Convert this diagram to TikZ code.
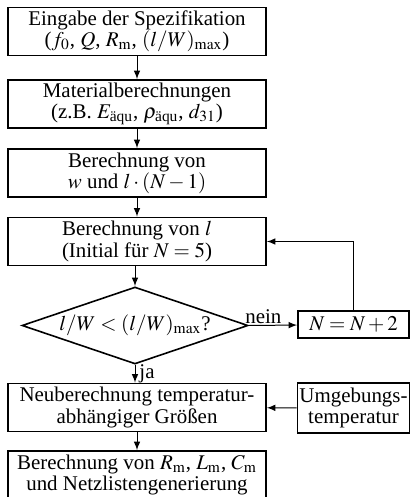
\documentclass[tikz,border=0pt]{standalone}
\usepackage{amsmath}
\usepackage{mathptmx}
\usepackage{fontspec}
\setmainfont{Liberation Serif}
\usetikzlibrary{shapes.geometric}

\begin{document}
\begin{tikzpicture}[x=0.5bp, y=-0.5bp, font=\fontsize{10.5}{10.6}\selectfont,
  box/.style={draw, line width=0.8pt, minimum width=129bp, minimum height=24bp, align=center, inner sep=1pt},
  sidebox/.style={draw, line width=0.8pt, minimum width=55.5bp, align=center, inner sep=1pt},
  flow/.style={-latex, line width=0.5pt}]
\useasboundingbox (0,0) rectangle (411,497);
% Main column
\node[box] (spec) at (137,31.5) {Eingabe der Spezifikation\\($f_0$, $Q$, $R_\mathrm{m}$, $(l/W)_\mathrm{max}$)};
\node[box] (mat) at (137,104) {Materialberechnungen\\(z.B. $E_\text{äqu}$, $\rho_\text{äqu}$, $d_{31}$)};
\node[box] (wcalc) at (137,173) {Berechnung von\\$w$ und $l\cdot(N-1)$};
\node[box] (lcalc) at (137,241.5) {Berechnung von $l$\\(Initial für $N=5$)};
\node[draw, diamond, aspect=2.9, inner sep=0pt, minimum width=113bp, minimum height=38.5bp, line width=0.8pt] (cmp) at (135,325.5) {$l/W<(l/W)_\mathrm{max}$?};
\node[box] (neu) at (137,407.5) {Neuberechnung temperatur-\\abhängiger Größen};
\node[box] (rlc) at (137,475) {Berechnung von $R_\mathrm{m}$, $L_\mathrm{m}$, $C_\mathrm{m}$\\und Netzlistengenerierung};

% Side boxes
\node[sidebox, minimum height=13.5bp] (nplus) at (353.5,324.5) {$N=N+2$};
\node[sidebox, minimum height=25bp] (umg) at (353.5,408) {Umgebungs-\\temperatur};

% Connectors
\draw[flow] (spec) -- (mat);
\draw[flow] (mat) -- (wcalc);
\draw[flow] (wcalc) -- (lcalc);
\draw[flow] (lcalc.south -| cmp.north) -- (cmp.north);
\draw[flow] (cmp.east) -- (nplus) node[above, pos=0.3, inner sep=0.5pt] {nein};
\draw[flow] (nplus.north) |- (lcalc.east);
\draw[flow] (cmp.south) -- (cmp.south |- neu.north) node[right, midway, inner sep=2pt] {ja};
\draw[flow] (umg) -- (neu);
\draw[flow] (neu) -- (rlc);
\end{tikzpicture}
\end{document}
